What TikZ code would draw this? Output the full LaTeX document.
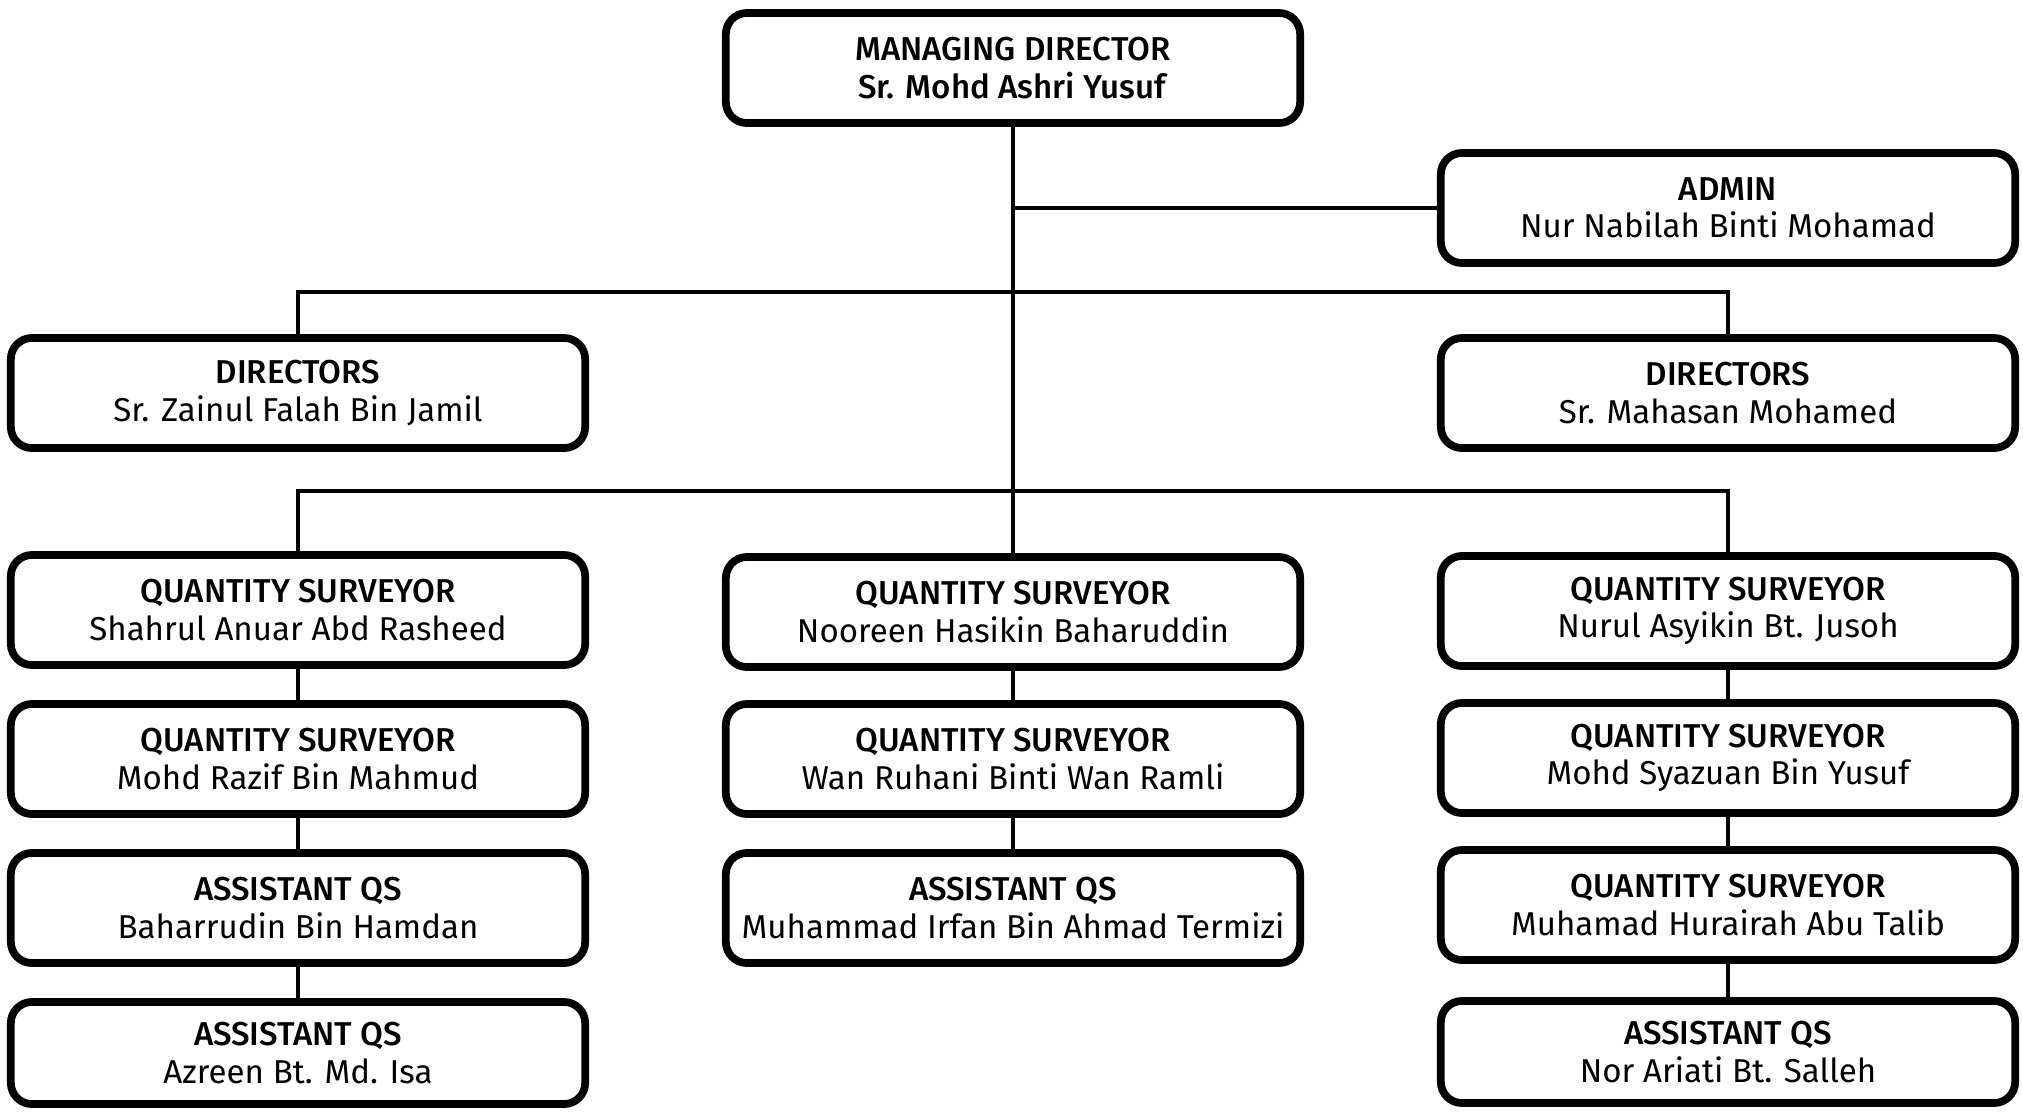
\documentclass[tikz,border=0pt]{standalone}
\usepackage{fontspec}
\setmainfont{Fira Sans}[BoldFont={Fira Sans Medium}]
\usepackage{tikz}

\begin{document}
\begin{tikzpicture}[x=0.01cm,y=-0.01cm,
  box/.style={draw,line width=2.2pt,rounded corners=6pt,minimum width=5.74cm,minimum height=1.10cm,align=center,inner sep=0pt,font=\fontsize{9.4}{10.6}\selectfont},
  link/.style={line width=1pt}]
\useasboundingbox (0,0) rectangle (2023,1111);
\node[box] (md) at (1013,68) {\textbf{MANAGING DIRECTOR}\\\textbf{Sr. Mohd Ashri Yusuf}};
\node[box] (admin) at (1728,208) {\textbf{ADMIN}\\Nur Nabilah Binti Mohamad};
\node[box] (dirL) at (298,393) {\textbf{DIRECTORS}\\Sr. Zainul Falah Bin Jamil};
\node[box] (dirR) at (1728,393) {\textbf{DIRECTORS}\\Sr. Mahasan Mohamed};
% left column
\node[box] (qsL1) at (298,610) {\textbf{QUANTITY SURVEYOR}\\Shahrul Anuar Abd Rasheed};
\node[box] (qsL2) at (298,759) {\textbf{QUANTITY SURVEYOR}\\Mohd Razif Bin Mahmud};
\node[box] (qsL3) at (298,908) {\textbf{ASSISTANT QS}\\Baharrudin Bin Hamdan};
\node[box,minimum height=1.02cm] (qsL4) at (298,1053) {\textbf{ASSISTANT QS}\\Azreen Bt. Md. Isa};
% middle column
\node[box] (qsM1) at (1013,612) {\textbf{QUANTITY SURVEYOR}\\Nooreen Hasikin Baharuddin};
\node[box] (qsM2) at (1013,759) {\textbf{QUANTITY SURVEYOR}\\Wan Ruhani Binti Wan Ramli};
\node[box] (qsM3) at (1013,908) {\textbf{ASSISTANT QS}\\Muhammad Irfan Bin Ahmad Termizi};
% right column
\node[box] (qsR1) at (1728,611) {\textbf{QUANTITY SURVEYOR}\\Nurul Asyikin Bt. Jusoh};
\node[box] (qsR2) at (1728,758) {\textbf{QUANTITY SURVEYOR}\\Mohd Syazuan Bin Yusuf};
\node[box] (qsR3) at (1728,905) {\textbf{QUANTITY SURVEYOR}\\Muhamad Hurairah Abu Talib};
\node[box,minimum height=1.02cm] (qsR4) at (1728,1052) {\textbf{ASSISTANT QS}\\Nor Ariati Bt. Salleh};
\coordinate (busDir) at (1013,292);
\coordinate (busQs) at (1013,491);
\draw[link] (md.south) -- (qsM1.north);
\draw[link] (md.south |- admin.west) -- (admin.west);
\draw[link] (dirL.north) -- (dirL.north |- busDir) -- (dirR.north |- busDir) -- (dirR.north);
\draw[link] (qsL1.north) -- (qsL1.north |- busQs) -- (qsR1.north |- busQs) -- (qsR1.north);
\draw[link] (qsL1) -- (qsL2); \draw[link] (qsL2) -- (qsL3); \draw[link] (qsL3) -- (qsL4);
\draw[link] (qsM1) -- (qsM2); \draw[link] (qsM2) -- (qsM3);
\draw[link] (qsR1) -- (qsR2); \draw[link] (qsR2) -- (qsR3); \draw[link] (qsR3) -- (qsR4);
\end{tikzpicture}
\end{document}
